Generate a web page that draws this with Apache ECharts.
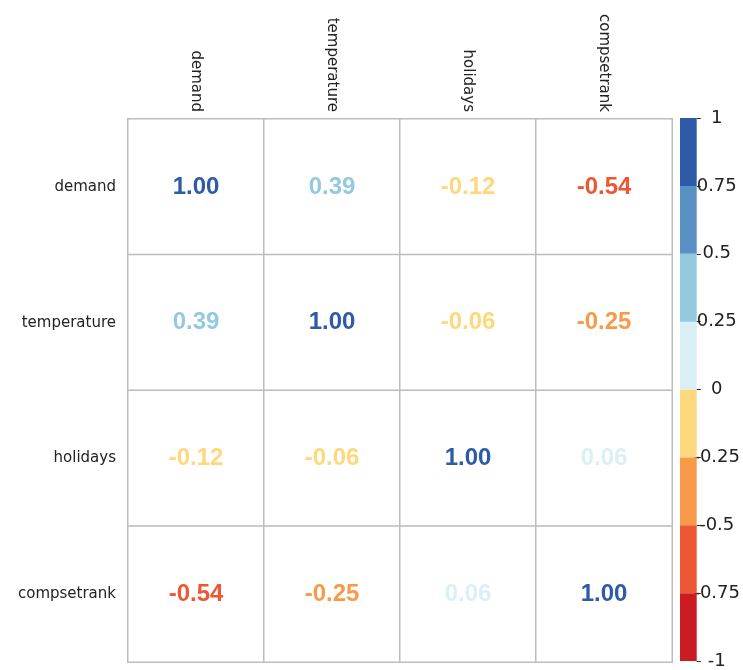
<!DOCTYPE html>
<html>
<head>
<meta charset="utf-8">
<script src="https://cdn.jsdelivr.net/npm/echarts@6/dist/echarts.min.js"></script>
<style>
html,body{margin:0;padding:0;background:#fff;}
#chart{width:743px;height:670px;}
</style>
</head>
<body>
<div id="chart"></div>
<script>
// ---- data ----
var variables = ['demand', 'temperature', 'holidays', 'compsetrank'];
var corrDemand      = [1.00, 0.39, -0.12, -0.54];
var corrTemperature = [0.39, 1.00, -0.06, -0.25];
var corrHolidays    = [-0.12, -0.06, 1.00, 0.06];
var corrCompsetrank = [-0.54, -0.25, 0.06, 1.00];
var colorBinEdges = [-1, -0.75, -0.5, -0.25, 0, 0.25, 0.5, 0.75, 1];
var colorBinColors = ['#CB1C24', '#EE5733', '#F99A4B', '#FDD87D', '#DAF0F6', '#94CADF', '#5A91C4', '#2E5BA7'];

var rows = [corrDemand, corrTemperature, corrHolidays, corrCompsetrank];

function binColor(v) {
  var n = colorBinColors.length;
  var idx = Math.ceil((v - colorBinEdges[0]) / ((colorBinEdges[n] - colorBinEdges[0]) / n)) - 1;
  idx = Math.max(0, Math.min(n - 1, idx));
  return colorBinColors[idx];
}

var heatData = [];
rows.forEach(function (row, r) {
  row.forEach(function (v, c) {
    heatData.push({ value: [c, r, v], label: { color: binColor(v) } });
  });
});

// colorbar series (stacked bars, ordered outward from 0)
var binOrder = colorBinColors.map(function (c, i) { return i; });
binOrder.sort(function (a, b) {
  var ma = Math.abs((colorBinEdges[a] + colorBinEdges[a + 1]) / 2);
  var mb = Math.abs((colorBinEdges[b] + colorBinEdges[b + 1]) / 2);
  return ma - mb;
});
var cbSeries = binOrder.map(function (i) {
  var lo = colorBinEdges[i], hi = colorBinEdges[i + 1];
  var val = (hi > 0) ? (hi - lo) : -(hi - lo);
  return {
    type: 'bar', xAxisIndex: 1, yAxisIndex: 1, stack: 'cb',
    data: [val], barWidth: '100%', silent: true,
    itemStyle: { color: colorBinColors[i] }
  };
});

var font = 'Liberation Sans, Arial, Helvetica, sans-serif';
var wideFont = 'DejaVu Sans, Liberation Sans, sans-serif';
var chart = echarts.init(document.getElementById('chart'), null, { renderer: 'canvas' });
chart.setOption({
  backgroundColor: '#fff',
  animation: false,
  textStyle: { fontFamily: font },
  grid: [
    { left: 128, top: 119, width: 544, height: 543 },
    { left: 680, top: 118, width: 17, height: 543 }
  ],
  xAxis: [
    {
      type: 'category', gridIndex: 0, data: variables, position: 'top',
      axisLine: { show: false }, axisTick: { show: false }, splitLine: { show: false },
      axisLabel: { rotate: 90, margin: 7, fontSize: 15, color: '#222', fontFamily: wideFont }
    },
    {
      type: 'category', gridIndex: 1, data: [''], show: false
    }
  ],
  yAxis: [
    {
      type: 'category', gridIndex: 0, data: variables, inverse: true,
      axisLine: { show: false }, axisTick: { show: false }, splitLine: { show: false },
      axisLabel: { margin: 12, fontSize: 15, color: '#222', fontFamily: wideFont }
    },
    {
      type: 'value', gridIndex: 1, min: -1, max: 1, interval: 0.25, position: 'right',
      axisLine: { show: false }, splitLine: { show: false },
      axisTick: { show: true, length: 4, inside: false, lineStyle: { color: '#222' } },
      axisLabel: { margin: 20, align: 'center', fontSize: 18, color: '#222', fontFamily: wideFont }
    }
  ],
  series: [
    {
      type: 'heatmap', xAxisIndex: 0, yAxisIndex: 0, data: heatData,
      itemStyle: { color: '#ffffff', borderColor: '#BDBDBD', borderWidth: 1.5 },
      label: {
        show: true, fontSize: 24, fontWeight: 'bold', fontFamily: font,
        formatter: function (p) { return p.value[2].toFixed(2); }
      },
      emphasis: { disabled: true }
    }
  ].concat(cbSeries)
});
</script>
</body>
</html>
